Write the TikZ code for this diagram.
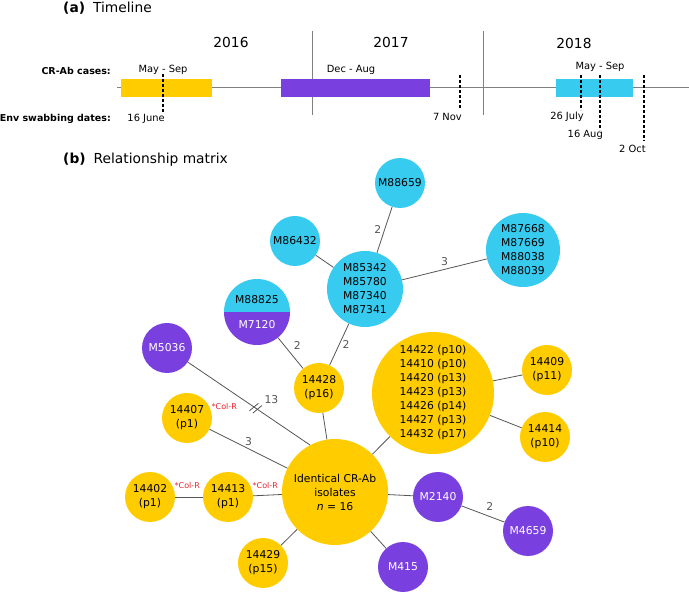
\documentclass[tikz,border=0pt]{standalone}
\usepackage{fontspec}
\setmainfont{DejaVu Sans}
\usetikzlibrary{positioning,calc}
\definecolor{ylw}{HTML}{FFCC00}
\definecolor{prp}{HTML}{7A3FDF}
\definecolor{cyn}{HTML}{37CBEF}
\definecolor{lgray}{HTML}{555555}
\definecolor{colred}{HTML}{E8202A}

\begin{document}
\begin{tikzpicture}[x=1pt,y=-1pt,
  iso/.style={circle,inner sep=0pt,minimum size=50pt,font=\fontsize{10.8}{14}\selectfont,align=center},
  yiso/.style={iso,fill=ylw},
  piso/.style={iso,fill=prp,text=white},
  ciso/.style={iso,fill=cyn},
  link/.style={lgray,line width=0.8pt},
  dist/.style={inner sep=3pt,font=\fontsize{10.8}{12}\selectfont},
  colr/.style={label={[inner sep=0.5pt,text=colred,font=\fontsize{8}{9}\selectfont]18:*Col-R}},
  swab/.style={line width=1.5pt,dash pattern=on 3pt off 2pt},
  small/.style={inner sep=0pt,font=\fontsize{9.9}{12}\selectfont},
  rowlbl/.style={inner sep=0pt,anchor=east,font=\fontsize{9.5}{12}\selectfont\bfseries},
  head/.style={anchor=west,inner sep=0pt,font=\fontsize{13.8}{16}\selectfont},
  yr/.style={font=\fontsize{13.8}{16}\selectfont}]
\useasboundingbox (0,0) rectangle (689,593);

\node[head] (tline) at (63,8) {\textbf{(a)}\hspace{8pt}Timeline};
\node[head] (rmat) at (63,160) {\textbf{(b)}\hspace{8pt}Relationship matrix};

\draw[gray,line width=0.9pt] (117,87) -- (689,87);
\draw[gray,line width=0.9pt] (312,31) -- (312,115);
\draw[gray,line width=0.9pt] (483,31) -- (483,115);
\fill[ylw] (121,79) rectangle (212,97);
\fill[prp] (281,79) rectangle (430,97);
\fill[cyn] (556,79) rectangle (633,97);

\node[yr] (y2016) at (231,42) {2016};
\node[yr] (y2017) at (391,42) {2017};
\node[yr] (y2018) at (574,43) {2018};
\node[rowlbl] (cases) at (111,71) {CR-Ab cases:};
\node[rowlbl] (swabs) at (111,119) {Env swabbing dates:};
\node[small] (r2016) at (163,70) {May - Sep};
\node[small] (r2017) at (351,70) {Dec - Aug};
\node[small] (r2018) at (600,67) {May - Sep};

\draw[swab] (163,74) -- (163,113);
\draw[swab] (460,75) -- (460,109);
\draw[swab] (581,75) -- (581,110);
\draw[swab] (600,75) -- (600,130);
\draw[swab] (644,75) -- (644,141);
\node[small,anchor=east] (d1) at (165,119) {16 June};
\node[small,anchor=east] (d2) at (462,117) {7 Nov};
\node[small,anchor=east] (d3) at (584,117) {26 July};
\node[small,anchor=east] (d4) at (603,135) {16 Aug};
\node[small,anchor=east] (d5) at (646,149) {2 Oct};

\node[ciso] (m88659) at (400,183) {M88659};
\node[ciso] (m86432) at (295,241) {M86432};
\node[ciso,minimum size=76pt] (m85342) at (365,289) {M85342\\M85780\\M87340\\M87341};
\node[ciso,minimum size=74pt] (m87668) at (523,250) {M87668\\M87669\\M88038\\M88039};
\node[iso,minimum size=66pt,path picture={
  \fill[cyn] (path picture bounding box.north west) rectangle (path picture bounding box.east);
  \fill[prp] (path picture bounding box.west) rectangle (path picture bounding box.south east);}]
  (m88825) at (257,312) {M88825\\[11pt]\textcolor{white}{M7120}};
\node[piso] (m5036) at (167,348) {M5036};
\node[yiso] (i14428) at (319,388) {14428\\(p16)};
\node[yiso,colr] (i14407) at (187,418) {14407\\(p1)};
\node[yiso,minimum size=106pt] (ident) at (335,492) {Identical CR-Ab\\isolates\\\textit{n} = 16};
\node[yiso,minimum size=122pt] (grp) at (433,393) {14422 (p10)\\14410 (p10)\\14420 (p13)\\14423 (p13)\\14426 (p14)\\14427 (p13)\\14432 (p17)};
\node[yiso] (i14409) at (547,370) {14409\\(p11)};
\node[yiso] (i14414) at (545,437) {14414\\(p10)};
\node[yiso,colr] (i14402) at (150,497) {14402\\(p1)};
\node[yiso,colr] (i14413) at (228,497) {14413\\(p1)};
\node[yiso] (i14429) at (263,563) {14429\\(p15)};
\node[piso] (m415) at (403,567) {M415};
\node[piso] (m2140) at (438,497) {M2140};
\node[piso] (m4659) at (528,531) {M4659};

\draw[link] (m85342) -- node[dist,left] {2} (m88659);
\draw[link] (m85342) -- (m86432);
\draw[link] (m85342) -- node[dist,above] {3} (m87668);
\draw[link] (m85342) -- node[dist,right] {2} (i14428);
\draw[link] (m88825) -- node[dist,above right] {2} (i14428);
\draw[link] (i14428) -- (ident);
\draw[link] (m5036) -- (ident.118) node[dist,pos=0.6,above right,yshift=5pt] {13};
\coordinate (brk) at ($(m5036)!0.62!(ident.118)$);
\draw[link] ($(brk)+(-6.2,2.6)$) -- ++(9,-7.5) ($(brk)+(-2.8,4.9)$) -- ++(9,-7.5);
\draw[link] (i14407) -- node[dist,above] {3} (ident);
\draw[link] (i14402) -- (i14413);
\draw[link] (i14413) -- (ident);
\draw[link] (i14429) -- (ident);
\draw[link] (m415) -- (ident);
\draw[link] (m2140) -- (ident);
\draw[link] (m2140) -- node[dist,above right] {2} (m4659);
\draw[link] (grp) -- (ident);
\draw[link] (grp) -- (i14409);
\draw[link] (grp) -- (i14414);
\end{tikzpicture}
\end{document}
